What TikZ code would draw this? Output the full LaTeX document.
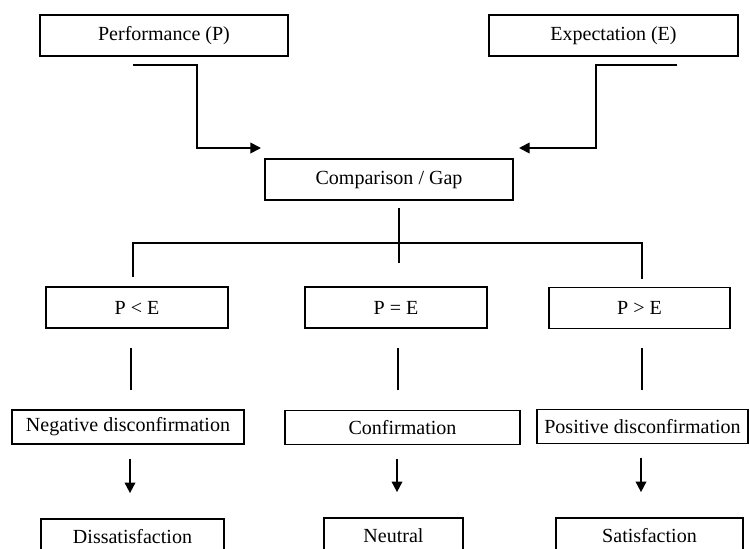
\documentclass[tikz,border=0pt]{standalone}
\usepackage{fontspec}
\setmainfont{Liberation Serif}
\usetikzlibrary{arrows.meta}

\begin{document}
\begin{tikzpicture}[x=0.02cm, y=-0.02cm,
    box/.style={draw, line width=1pt, inner sep=0pt, minimum height=0.82cm, font=\fontsize{11.4}{13}\selectfont},
    sbox/.style={box, minimum height=0.68cm},
    endbox/.style={box, minimum height=0.72cm},
    link/.style={line width=1pt},
    arr/.style={line width=1pt, -{Triangle[length=6pt, width=6pt]}}]
                \clip (0,0) rectangle (750,548);

                % Inputs
                \node[box, minimum width=4.96cm] (perf) at (164,35.5) {Performance (P)};
                \node[box, minimum width=4.98cm] (expect) at (613.5,35.5) {Expectation (E)};
                \node[box, minimum width=4.96cm] (comp) at (389,179.5) {Comparison / Gap};

                % Inputs into comparison
                \coordinate (pin) at (133,65);
                \coordinate (pend) at (261,148);
                \coordinate (ein) at (677,65);
                \coordinate (eend) at (519,148);
                \draw[arr] (pin) -- (197,65) |- (pend);
                \draw[arr] (ein) -- (596,65) |- (eend);

                % Three cases
                \node[box, minimum width=3.64cm] (less) at (137,307.5) {P < E};
                \node[box, minimum width=3.64cm] (equal) at (396,307.5) {P = E};
                \node[box, minimum width=3.62cm] (more) at (639.5,308) {P > E};

                % Branching
                \coordinate (cdown) at (399,208);
                \coordinate (cend) at (399,263);
                \coordinate (lend) at (133,277);
                \coordinate (rend) at (642,279);
                \draw[link] (cdown) -- (cend);
                \draw[link] (lend) -- (133,243) -- (642,243) -- (rend);

                % Disconfirmation
                \node[sbox, minimum width=4.64cm] (neg) at (128,427) {Negative disconfirmation};
                \node[sbox, minimum width=4.70cm] (conf) at (402.5,427.5) {Confirmation};
                \node[sbox, minimum width=4.22cm] (pos) at (642.5,426.5) {Positive disconfirmation};
                \foreach \xx in {131, 398, 642}
                    \draw[link] (\xx,348) -- (\xx,390);

                % Outcomes
                \node[endbox, minimum width=3.66cm] (dissat) at (132.5,537) {Dissatisfaction};
                \node[endbox, minimum width=2.78cm] (neutral) at (393.5,536) {Neutral};
                \node[endbox, minimum width=3.74cm] (satis) at (649.5,536) {Satisfaction};
                \draw[arr] ([yshift=-0.28cm]neg.south -| 130,0) -- ([yshift=0.5cm]dissat.north -| 130,0);
                \draw[arr] ([yshift=-0.28cm]conf.south -| 397,0) -- ([yshift=0.5cm]neutral.north -| 397,0);
                \draw[arr] ([yshift=-0.28cm]pos.south -| 641,0) -- ([yshift=0.5cm]satis.north -| 641,0);
\end{tikzpicture}
\end{document}
